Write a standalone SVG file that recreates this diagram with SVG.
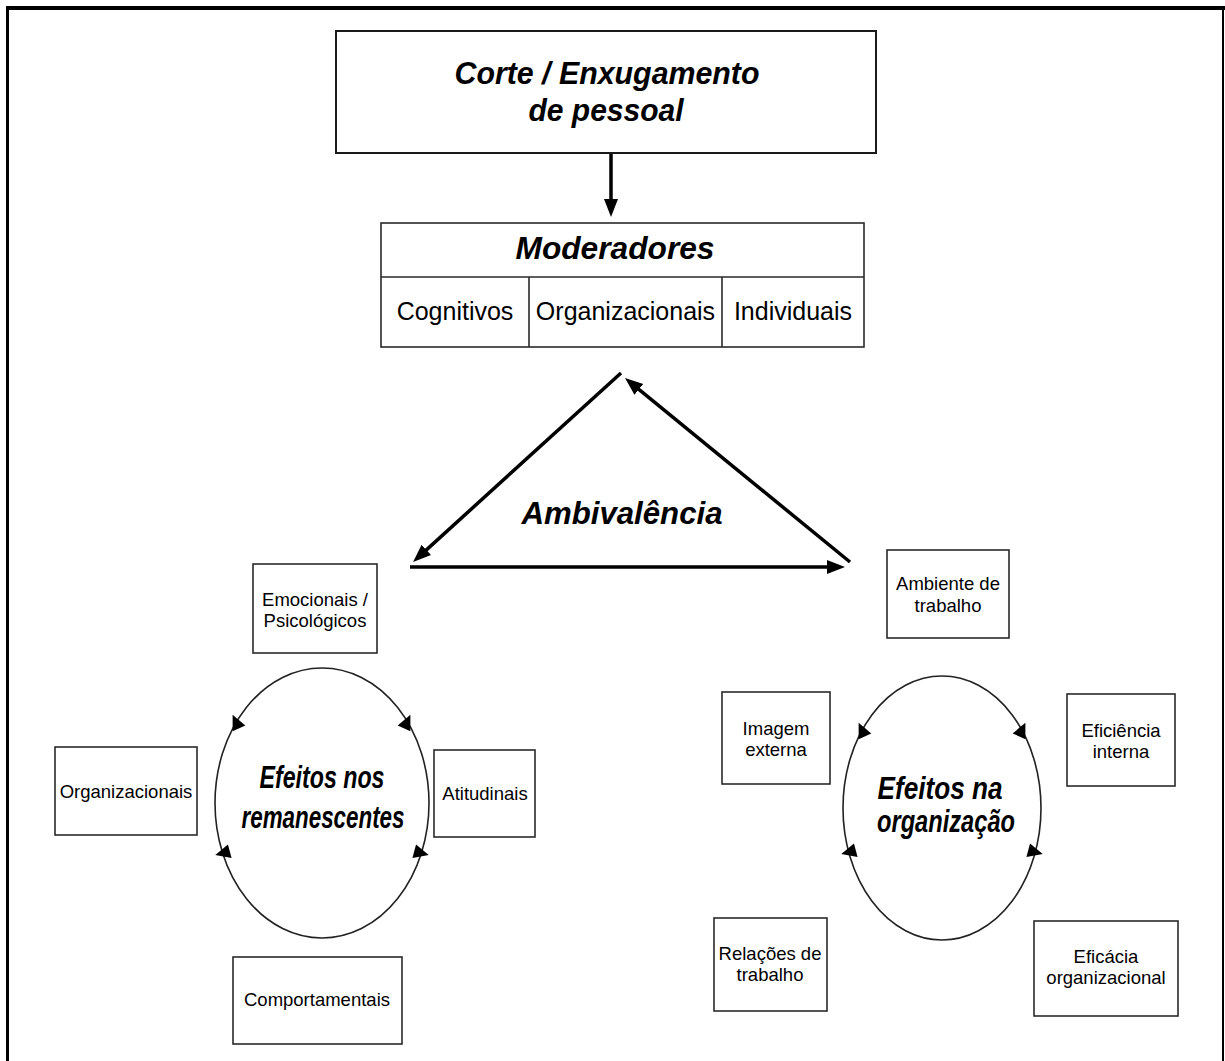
<svg xmlns="http://www.w3.org/2000/svg" xmlns:xlink="http://www.w3.org/1999/xlink" width="1225" height="1061" viewBox="0 0 1225 1061">
  <style>
    .frame { stroke: #000; fill: none; }
    .box { fill: #fff; stroke: #2a2a2a; stroke-width: 1.6; }
    .main { fill: #fff; stroke: #1a1a1a; stroke-width: 2; }
    .ring { fill: none; stroke: #222; stroke-width: 1.6; }
    .conn { stroke: #000; stroke-width: 3.5; fill: none; }
    .bi { font-family: "Liberation Sans", Arial, sans-serif; font-weight: bold; font-style: italic; font-size: 32px; fill: #000; text-anchor: middle; }
    .cell { font-family: "Liberation Sans", Arial, sans-serif; font-size: 25px; fill: #000; text-anchor: middle; }
    .lbl { font-family: "Liberation Sans", Arial, sans-serif; font-size: 18.5px; fill: #000; text-anchor: middle; }
  </style>
  <defs>
    <marker id="arrow" markerUnits="userSpaceOnUse" markerWidth="20" markerHeight="16" refX="4" refY="7" orient="auto">
      <path d="M0,0 L18,7 L0,14 z" fill="#000"/>
    </marker>
    <path id="tip" d="M8,0 L-7,-7 L-7,7 z" fill="#000"/>
  </defs>

  <rect width="1225" height="1061" fill="#fff"/>

  <!-- page frame -->
  <g id="frame">
    <line class="frame" x1="6" y1="8" x2="1225" y2="8" stroke-width="4"/>
    <line class="frame" x1="7.5" y1="6" x2="7.5" y2="1061" stroke-width="3"/>
    <line class="frame" x1="1223" y1="8" x2="1223" y2="1061" stroke-width="2"/>
  </g>

  <!-- connectors -->
  <g id="connectors">
    <line class="conn" x1="611" y1="153" x2="611" y2="203" marker-end="url(#arrow)"/>
    <line class="conn" x1="621" y1="373" x2="423.4" y2="552.6" marker-end="url(#arrow)"/>
    <line class="conn" x1="850" y1="562" x2="635.8" y2="386.9" marker-end="url(#arrow)"/>
    <line class="conn" x1="410" y1="567" x2="831" y2="567" marker-end="url(#arrow)"/>
  </g>

  <g id="corte">
    <rect class="main" x="336" y="31" width="540" height="122"/>
    <text class="bi" x="607" y="84" textLength="305" lengthAdjust="spacingAndGlyphs">Corte / Enxugamento</text>
    <text class="bi" x="606" y="121" textLength="155" lengthAdjust="spacingAndGlyphs">de pessoal</text>
  </g>

  <g id="moderadores">
    <rect class="box" x="381" y="223" width="483" height="124"/>
    <line class="box" x1="381" y1="277" x2="864" y2="277"/>
    <line class="box" x1="529" y1="277" x2="529" y2="347"/>
    <line class="box" x1="722" y1="277" x2="722" y2="347"/>
    <text class="bi" x="615" y="259" textLength="199" lengthAdjust="spacingAndGlyphs">Moderadores</text>
    <text class="cell" x="455" y="320">Cognitivos</text>
    <text class="cell" x="625.5" y="320">Organizacionais</text>
    <text class="cell" x="793" y="320">Individuais</text>
  </g>

  <g id="ambivalencia">
    <text class="bi" x="622" y="524" textLength="201" lengthAdjust="spacingAndGlyphs">Ambivalência</text>
  </g>

  <!-- effects on the remaining staff -->
  <g id="efeitos-remanescentes">
    <ellipse class="ring" cx="322" cy="803" rx="107" ry="135"/>
    <use xlink:href="#tip" transform="translate(236,722) rotate(-115)"/>
    <use xlink:href="#tip" transform="translate(407,722) rotate(-65)"/>
    <use xlink:href="#tip" transform="translate(223,853) rotate(165)"/>
    <use xlink:href="#tip" transform="translate(421,853) rotate(15)"/>
    <text class="bi" x="322" y="788" textLength="125" lengthAdjust="spacingAndGlyphs">Efeitos nos</text>
    <text class="bi" x="323" y="828" textLength="163" lengthAdjust="spacingAndGlyphs">remanescentes</text>
  </g>

  <g id="emocionais">
    <rect class="box" x="253" y="564" width="124" height="89"/>
    <text class="lbl" x="315" y="606">Emocionais /</text>
    <text class="lbl" x="315" y="627">Psicológicos</text>
  </g>
  <g id="organizacionais">
    <rect class="box" x="55" y="747" width="142" height="88"/>
    <text class="lbl" x="126" y="798">Organizacionais</text>
  </g>
  <g id="atitudinais">
    <rect class="box" x="434" y="750" width="101" height="87"/>
    <text class="lbl" x="485" y="800">Atitudinais</text>
  </g>
  <g id="comportamentais">
    <rect class="box" x="233" y="957" width="169" height="87"/>
    <text class="lbl" x="317" y="1006">Comportamentais</text>
  </g>

  <!-- effects on the organisation -->
  <g id="efeitos-organizacao">
    <ellipse class="ring" cx="942" cy="808" rx="99" ry="132"/>
    <use xlink:href="#tip" transform="translate(862,730) rotate(-115)"/>
    <use xlink:href="#tip" transform="translate(1022,730) rotate(-65)"/>
    <use xlink:href="#tip" transform="translate(849,852) rotate(165)"/>
    <use xlink:href="#tip" transform="translate(1035,852) rotate(15)"/>
    <text class="bi" x="940" y="799" textLength="125" lengthAdjust="spacingAndGlyphs">Efeitos na</text>
    <text class="bi" x="946" y="832" textLength="138" lengthAdjust="spacingAndGlyphs">organização</text>
  </g>

  <g id="ambiente">
    <rect class="box" x="887" y="550" width="122" height="88"/>
    <text class="lbl" x="948" y="590">Ambiente de</text>
    <text class="lbl" x="948" y="612">trabalho</text>
  </g>
  <g id="imagem">
    <rect class="box" x="722" y="692" width="108" height="92"/>
    <text class="lbl" x="776" y="735">Imagem</text>
    <text class="lbl" x="776" y="756">externa</text>
  </g>
  <g id="eficiencia">
    <rect class="box" x="1067" y="694" width="108" height="92"/>
    <text class="lbl" x="1121" y="737">Eficiência</text>
    <text class="lbl" x="1121" y="758">interna</text>
  </g>
  <g id="relacoes">
    <rect class="box" x="714" y="918" width="113" height="93"/>
    <text class="lbl" x="770" y="960">Relações de</text>
    <text class="lbl" x="770" y="981">trabalho</text>
  </g>
  <g id="eficacia">
    <rect class="box" x="1034" y="921" width="144" height="95"/>
    <text class="lbl" x="1106" y="963">Eficácia</text>
    <text class="lbl" x="1106" y="984">organizacional</text>
  </g>
</svg>
